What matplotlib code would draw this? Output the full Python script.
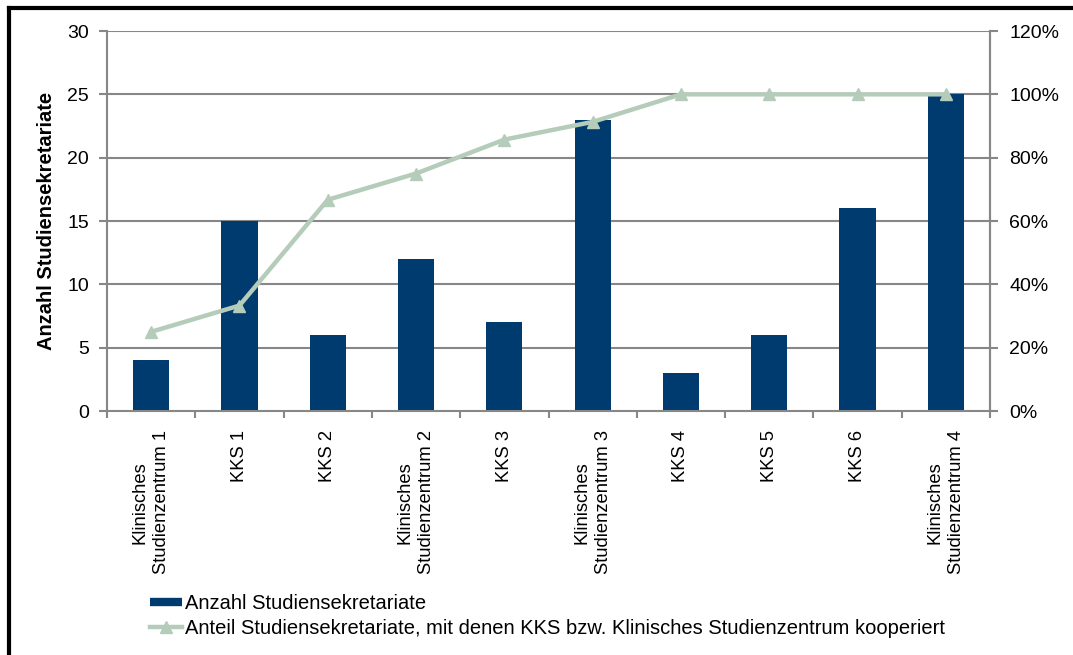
import matplotlib
matplotlib.use("Agg")
import matplotlib.pyplot as plt
from matplotlib.lines import Line2D
import numpy as np

categories = ["Klinisches\nStudienzentrum 1", "KKS 1", "KKS 2", "Klinisches\nStudienzentrum 2",
              "KKS 3", "Klinisches\nStudienzentrum 3", "KKS 4", "KKS 5", "KKS 6",
              "Klinisches\nStudienzentrum 4"]
anzahl = [4, 15, 6, 12, 7, 23, 3, 6, 16, 25]
anteil = [25.0, 33.3, 66.7, 75.0, 85.7, 91.3, 100.0, 100.0, 100.0, 100.0]
left_ticks = [0, 5, 10, 15, 20, 25, 30]
right_ticks = [0, 20, 40, 60, 80, 100, 120]

plt.rcParams['font.family'] = ['Liberation Sans', 'DejaVu Sans']

bar_color = "#003B6F"
line_color = "#B4CCB9"
grid_color = "#878787"
tick_fs = 14

fig = plt.figure(figsize=(10.73, 6.55), dpi=100)
ax = fig.add_axes([107/1073, 1-411/655, (990-107)/1073, (411-31)/655])
x = np.arange(len(categories))

ax.set_xlim(-0.5, len(categories)-0.5)
ax.set_ylim(0, 30)
ax.set_yticks(left_ticks)
ax.set_yticklabels([str(t) for t in left_ticks], fontsize=tick_fs)
for t in left_ticks[1:]:
    ax.axhline(t, color=grid_color, lw=1.5, zorder=0)
bars = ax.bar(x, anzahl, width=0.41, color=bar_color, zorder=2)

ax.set_xticks(np.arange(-0.5, len(categories), 1.0))
ax.set_xticklabels([])
ax.set_xticks(x, minor=True)
ax.set_xticklabels(categories, minor=True, rotation=90, fontsize=13.2,
                   multialignment='center', linespacing=1.35)
for lbl in ax.get_xticklabels(minor=True):
    lbl.set_rotation_mode('anchor')
    lbl.set_ha('right')
    lbl.set_va('center')
ax.tick_params(axis='x', which='minor', length=0, pad=14)
ax.tick_params(axis='x', which='major', length=5, width=1.5, color=grid_color)
ax.tick_params(axis='y', length=6, width=1.5, color=grid_color, pad=7)
ax.spines['top'].set_visible(False)
for s in ['left', 'right', 'bottom']:
    ax.spines[s].set_color(grid_color)
    ax.spines[s].set_linewidth(1.5)
ax.set_ylabel("Anzahl Studiensekretariate", fontsize=14.5, fontweight='bold', labelpad=8)

ax2 = ax.twinx()
ax2.set_ylim(0, 120)
ax2.set_yticks(right_ticks)
ax2.set_yticklabels([f"{t}%" for t in right_ticks], fontsize=tick_fs)
ax2.tick_params(axis='y', length=6, width=1.5, color=grid_color, pad=8)
for s in ['top', 'left', 'bottom']:
    ax2.spines[s].set_visible(False)
ax2.spines['right'].set_color(grid_color)
ax2.spines['right'].set_linewidth(1.5)
ax2.plot(x, anteil, color=line_color, lw=3.2, marker='^', markersize=8,
         markeredgecolor=line_color, markerfacecolor=line_color, zorder=3)

handles = [Line2D([0], [0], color=bar_color, lw=6, solid_capstyle='butt'),
           Line2D([0], [0], color=line_color, lw=3.2, marker='^', markersize=8)]
labels = ["Anzahl Studiensekretariate",
          "Anteil Studiensekretariate, mit denen KKS bzw. Klinisches Studienzentrum kooperiert"]
fig.legend(handles, labels, loc='upper left', bbox_to_anchor=(150/1073, 1-594/655),
           frameon=False, fontsize=14.5, handlelength=1.6, handletextpad=0.15,
           labelspacing=0.3, borderaxespad=0, borderpad=0)

fig.add_artist(Line2D([9/1073, 9/1073], [0, 1-8/655], color='black', lw=3, transform=fig.transFigure))
fig.add_artist(Line2D([9/1073, 1], [1-8/655, 1-8/655], color='black', lw=3, transform=fig.transFigure))

fig.savefig("out.png", dpi=100)
